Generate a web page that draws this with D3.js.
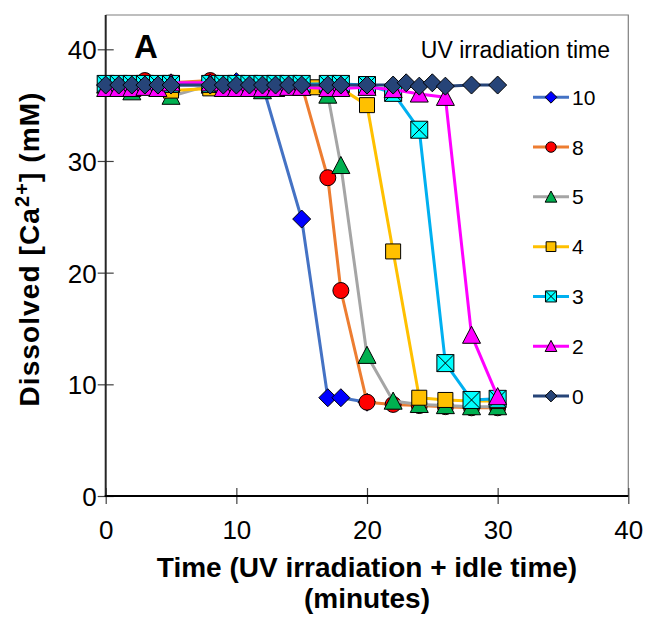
<!DOCTYPE html>
<html>
<head>
<meta charset="utf-8">
<script src="https://cdn.jsdelivr.net/npm/d3@7"></script>
<style>
  html, body { margin: 0; padding: 0; background: #fff; }
  svg text { font-family: "Liberation Sans", Arial, sans-serif; }
</style>
</head>
<body>
<svg id="chart" width="647" height="618"></svg>
<script>
// ---------------- DATA ----------------
const seriesNames = ["10", "8", "5", "4", "3", "2", "0"];

const time10 = [0, 1, 2, 3, 4, 5, 8, 9, 10, 11, 12, 15, 17, 18, 20];
const ca10   = [36.8, 36.8, 36.8, 36.8, 36.8, 36.8, 36.8, 36.8, 37.1, 36.8, 36.8, 24.8, 8.8, 8.8, 8.4];

const time8 = [0, 1, 2, 3, 4, 5, 8, 9, 10, 11, 12, 13, 15, 17, 18, 20, 22, 24, 26, 28, 30];
const ca8   = [36.8, 36.8, 36.9, 37.2, 36.9, 37.0, 37.2, 36.9, 36.8, 36.8, 36.8, 36.8, 36.8, 28.5, 18.4, 8.4, 8.2, 8.1, 8.0, 7.9, 7.9];

const time5 = [0, 1, 2, 3, 4, 5, 8, 9, 10, 11, 12, 13, 15, 17, 18, 20, 22, 24, 26, 28, 30];
const ca5   = [36.8, 36.6, 36.2, 36.8, 36.5, 35.8, 36.8, 36.8, 36.8, 36.6, 36.3, 36.5, 36.6, 35.9, 29.6, 12.6, 8.5, 8.2, 8.1, 8.0, 8.0];

const time4 = [0, 2, 4, 5, 8, 10, 12, 14, 16, 18, 20, 22, 24, 26, 28, 30];
const ca4   = [36.8, 36.8, 36.8, 36.3, 36.5, 36.8, 36.8, 36.7, 36.6, 36.5, 35.0, 21.9, 8.8, 8.6, 8.5, 8.5];

const time3 = [0, 1, 2, 3, 4, 5, 8, 9, 10, 11, 12, 13, 14, 15, 17, 18, 20, 22, 24, 26, 28, 30];
const ca3   = [36.9, 36.9, 36.9, 36.9, 36.9, 36.9, 36.9, 36.9, 36.9, 36.9, 36.9, 36.9, 36.9, 36.9, 36.9, 36.9, 36.8, 36.1, 32.8, 11.9, 8.6, 8.7];

const time2 = [0, 1, 2, 3, 4, 5, 8, 9, 10, 11, 12, 13, 14, 15, 17, 18, 20, 22, 24, 26, 28, 30];
const ca2   = [36.5, 36.5, 36.5, 36.6, 36.5, 37.0, 37.0, 36.5, 36.5, 36.5, 36.5, 36.5, 36.6, 36.6, 36.5, 36.5, 36.6, 36.4, 36.0, 35.7, 14.4, 8.9];

const time0 = [0, 1, 2, 3, 4, 5, 8, 9, 10, 11, 12, 13, 14, 15, 17, 18, 20, 22, 23, 24, 25, 26, 28, 30];
const ca0   = [36.8, 36.8, 36.8, 36.8, 36.8, 36.8, 36.8, 36.8, 36.8, 36.8, 36.8, 36.8, 36.8, 36.8, 36.8, 36.8, 36.8, 36.8, 37.0, 36.7, 37.0, 36.7, 36.8, 36.8];

const xTicks = [0, 10, 20, 30, 40];
const yTicks = [0, 10, 20, 30, 40];

const legendTitle = "UV irradiation time";
const panelLabel = "A";

// ---------------- STYLE ----------------
const styles = {
  "10": { line: "#4472C4", fill: "#0000FF", shape: "diamond", size: 18 },
  "8":  { line: "#ED7D31", fill: "#FF0000", shape: "circle",  size: 16 },
  "5":  { line: "#A5A5A5", fill: "#00B050", shape: "triangle", size: 18 },
  "4":  { line: "#FFC000", fill: "#FFC000", shape: "square",  size: 15 },
  "3":  { line: "#00B0F0", fill: "#00FFFF", shape: "xsquare", size: 17 },
  "2":  { line: "#FF00FF", fill: "#FF00FF", shape: "triangle", size: 18 },
  "0":  { line: "#264478", fill: "#264478", shape: "diamond", size: 18 }
};

const seriesData = {
  "10": [time10, ca10], "8": [time8, ca8], "5": [time5, ca5], "4": [time4, ca4],
  "3": [time3, ca3], "2": [time2, ca2], "0": [time0, ca0]
};

const svg = d3.select("#chart");

const left = 105.7, right = 628.3, bottom = 496, top40 = 49.3, frameTop = 15;
const x = d3.scaleLinear().domain([0, 40]).range([left, right]);
const y = d3.scaleLinear().domain([0, 40]).range([bottom, top40]);

// Frame (top/right grey)
svg.append("path")
  .attr("d", `M${left},${frameTop}H${right}V${bottom}`)
  .attr("fill", "none").attr("stroke", "#7f7f7f").attr("stroke-width", 1.2);

// Axes
const xAxis = d3.axisBottom(x).tickValues(xTicks).tickSize(0).tickFormat(d3.format("d"));
const yAxis = d3.axisLeft(y).tickValues(yTicks).tickSize(0).tickFormat(d3.format("d"));

const gx = svg.append("g").attr("transform", `translate(0,${bottom})`).call(xAxis);
gx.select(".domain").remove();
gx.selectAll(".tick text").attr("dy", null).attr("y", 43)
  .style("font-size", "26px").attr("fill", "#000");
gx.selectAll(".tick").append("line").attr("y1", -8).attr("y2", 8)
  .attr("stroke", "#404040").attr("stroke-width", 1.2);

const gy = svg.append("g").attr("transform", `translate(${left},0)`).call(yAxis);
gy.select(".domain").remove();
gy.selectAll(".tick text").attr("x", -9).attr("dy", "0.36em")
  .style("font-size", "26px").attr("fill", "#000");
gy.selectAll(".tick").append("line").attr("x1", -8).attr("x2", 8)
  .attr("stroke", "#404040").attr("stroke-width", 1.2);

// axis lines (left + bottom)
svg.append("line").attr("x1", left).attr("x2", left).attr("y1", frameTop).attr("y2", bottom + 1)
  .attr("stroke", "#262626").attr("stroke-width", 2);
svg.append("line").attr("x1", left - 1).attr("x2", right).attr("y1", bottom).attr("y2", bottom)
  .attr("stroke", "#000").attr("stroke-width", 2);

// Marker path generator
function markerPath(shape, s) {
  const h = s / 2;
  const p = d3.path();
  if (shape === "diamond") {
    p.moveTo(0, -h); p.lineTo(h, 0); p.lineTo(0, h); p.lineTo(-h, 0); p.closePath();
  } else if (shape === "circle") {
    p.arc(0, 0, h, 0, 2 * Math.PI); p.closePath();
  } else if (shape === "triangle") {
    p.moveTo(0, -h); p.lineTo(h, h * 0.9); p.lineTo(-h, h * 0.9); p.closePath();
  } else {
    p.rect(-h, -h, s, s);
  }
  return p.toString();
}

function drawMarker(g, st, scale) {
  const s = st.size * scale;
  g.append("path").attr("d", markerPath(st.shape, s))
    .attr("fill", st.fill).attr("stroke", "#000").attr("stroke-width", 1);
  if (st.shape === "xsquare") {
    const h = s / 2;
    g.append("path").attr("d", `M${-h},${-h}L${h},${h}M${h},${-h}L${-h},${h}`)
      .attr("stroke", "#000").attr("stroke-width", 1);
  }
}

const line = d3.line().x(d => x(d[0])).y(d => y(d[1]));

const plot = svg.append("g");
seriesNames.forEach(name => {
  const st = styles[name];
  const [t, v] = seriesData[name];
  const pts = t.map((d, i) => [d, v[i]]);
  const g = plot.append("g");
  g.append("path").datum(pts).attr("d", line)
    .attr("fill", "none").attr("stroke", st.line).attr("stroke-width", 3)
    .attr("stroke-linejoin", "round");
  pts.forEach(p => {
    const mg = g.append("g").attr("transform", `translate(${x(p[0])},${y(p[1])})`);
    drawMarker(mg, st, 1);
  });
});

// Panel label
svg.append("text").attr("x", 134).attr("y", 58).text(panelLabel)
  .style("font-size", "33px").style("font-weight", "bold");

// Legend
svg.append("text").attr("x", 610).attr("y", 58).attr("text-anchor", "end")
  .text(legendTitle).style("font-size", "23px");

const legY = d3.scalePoint().domain(seriesNames).range([97.3, 396]);
seriesNames.forEach(name => {
  const st = styles[name];
  const g = svg.append("g").attr("transform", `translate(0,${legY(name)})`);
  g.append("line").attr("x1", 533).attr("x2", 569).attr("y1", 0).attr("y2", 0)
    .attr("stroke", st.line).attr("stroke-width", 3);
  const mg = g.append("g").attr("transform", "translate(551,0)");
  drawMarker(mg, st, 0.65);
  g.append("text").attr("x", 572).attr("y", 0).attr("dy", "0.36em").text(name)
    .style("font-size", "21px");
});

// Axis titles
const xt = svg.append("text").attr("text-anchor", "middle")
  .style("font-size", "28px").style("font-weight", "bold");
xt.append("tspan").attr("x", 367).attr("y", 577).text("Time (UV irradiation + idle time)");
xt.append("tspan").attr("x", 367).attr("y", 608).text("(minutes)");

const yt = svg.append("text").attr("text-anchor", "middle")
  .attr("transform", "translate(39,249) rotate(-90)")
  .style("font-size", "28px").style("font-weight", "bold")
  .style("letter-spacing", "1.1px");
yt.append("tspan").text("Dissolved [Ca");
yt.append("tspan").text("2+").attr("dy", -10).style("font-size", "20px");
yt.append("tspan").text("] (mM)").attr("dy", 10);
</script>
</body>
</html>
